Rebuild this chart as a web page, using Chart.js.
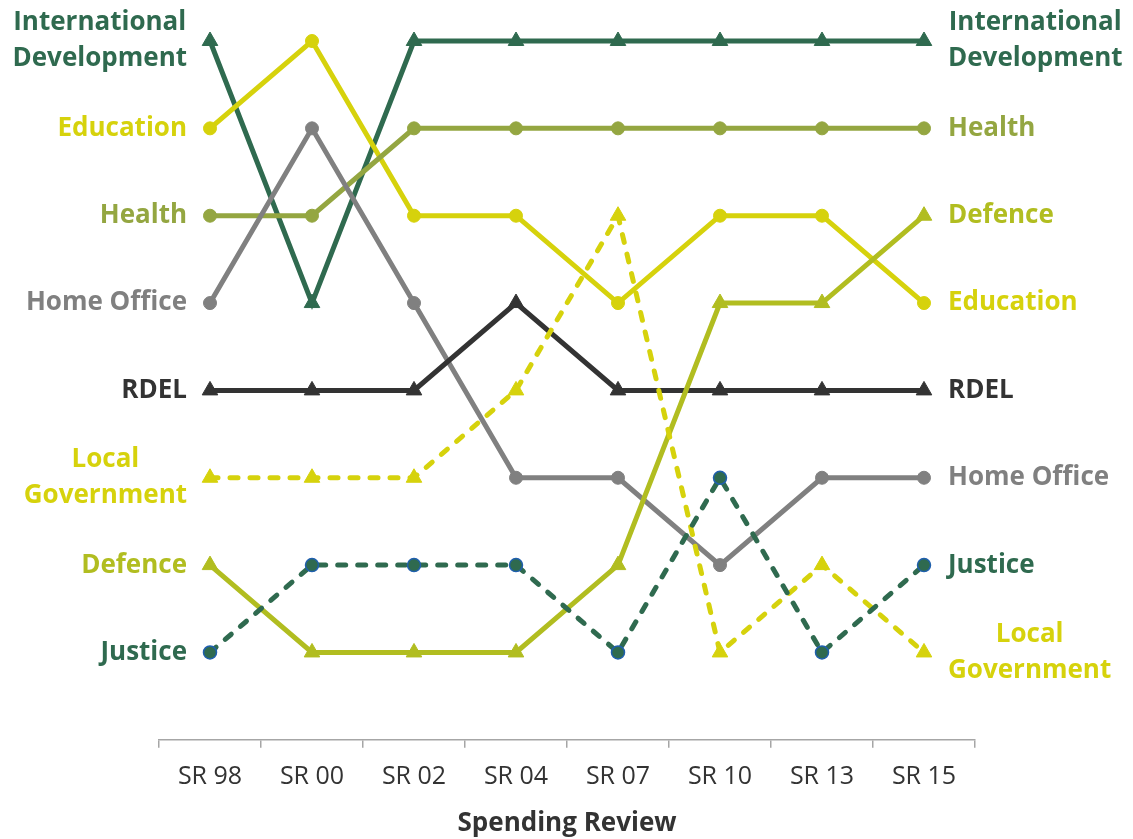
<!DOCTYPE html>
<html>
<head>
<meta charset="utf-8">
<script src="https://cdn.jsdelivr.net/npm/chart.js@4.4.1/dist/chart.umd.min.js"></script>
<style>
  html, body { margin: 0; padding: 0; background: #fff; }
  #wrap { width: 1133px; height: 839px; position: relative; }
</style>
</head>
<body>
<div id="wrap"><canvas id="chart"></canvas></div>
<script>
const reviews = ['SR 98', 'SR 00', 'SR 02', 'SR 04', 'SR 07', 'SR 10', 'SR 13', 'SR 15']

// rank of each department in each spending review (1 = top)
const intDev = [1, 4, 1, 1, 1, 1, 1, 1]
const education = [2, 1, 3, 3, 4, 3, 3, 4]
const health = [3, 3, 2, 2, 2, 2, 2, 2]
const homeOffice = [4, 2, 4, 6, 6, 7, 6, 6]
const rdel = [5, 5, 5, 4, 5, 5, 5, 5]
const localGov = [6, 6, 6, 5, 3, 8, 7, 8]
const defence = [7, 8, 8, 8, 7, 4, 4, 3]
const justice = [8, 7, 7, 7, 8, 6, 8, 7]

const font = "'Open Sans', 'Noto Sans', sans-serif"

function series(name, data, color, opts = {}) {
  return Object.assign({
    label: name,
    data: data,
    borderColor: color,
    backgroundColor: color,
    pointBackgroundColor: color,
    pointBorderColor: color,
    borderWidth: 5,
    pointStyle: 'circle',
    pointRadius: 6.5,
    pointBorderWidth: 1,
    tension: 0,
    clip: false,
    lines: [name]
  }, opts)
}

const tri = { pointStyle: 'triangle', pointRadius: 9 }
const dashed = { borderDash: [8, 12], borderCapStyle: 'round' }

const datasets = [
  series('Justice', justice, '#2f6a4f', Object.assign({ pointBorderColor: '#1f5fae', pointBorderWidth: 1.5 }, dashed)),
  series('Local Government', localGov, '#d6d20c', Object.assign({ lines: ['Local', 'Government'] }, tri, dashed)),
  series('Defence', defence, '#b1bd20', tri),
  series('RDEL', rdel, '#333333', tri),
  series('Home Office', homeOffice, '#808080'),
  series('Health', health, '#94a641'),
  series('Education', education, '#d6d20c'),
  series('International Development', intDev, '#2f6a4f', Object.assign({ lines: ['International', 'Development'] }, tri)),
]

// department names at both ends of each line
const endLabels = {
  id: 'endLabels',
  afterDraw(chart) {
    const ctx = chart.ctx
    const y = chart.scales.y
    const x = chart.scales.x
    ctx.save()
    ctx.font = 'bold 26px ' + font
    ctx.textBaseline = 'middle'
    ctx.textAlign = 'center'
    const lh = 36
    chart.data.datasets.forEach(ds => {
      const lines = ds.lines
      const w = Math.max(...lines.map(l => ctx.measureText(l).width))
      ctx.fillStyle = ds.borderColor
      const ends = [
        { v: ds.data[0], cx: x.getPixelForValue(0) - 23 - w / 2 },
        { v: ds.data[ds.data.length - 1], cx: x.getPixelForValue(ds.data.length - 1) + 24 + w / 2 }
      ]
      ends.forEach(e => {
        const cy = y.getPixelForValue(e.v)
        lines.forEach((l, i) => {
          ctx.fillText(l, e.cx, cy + (i - (lines.length - 1) / 2) * lh)
        })
      })
    })
    ctx.restore()
  }
}

new Chart(document.getElementById('chart'), {
  type: 'line',
  data: { labels: reviews, datasets: datasets },
  options: {
    responsive: true,
    maintainAspectRatio: false,
    animation: false,
    layout: { padding: { left: 159, right: 158, top: 0, bottom: 0 } },
    plugins: { legend: { display: false }, tooltip: { enabled: false } },
    scales: {
      x: {
        offset: true,
        grid: { offset: true, drawOnChartArea: false, tickLength: 8, color: '#a6a6a6', lineWidth: 1.5 },
        border: { color: '#a6a6a6', width: 1.5 },
        ticks: { color: '#333333', padding: 14, font: { family: font, size: 25 } },
        title: {
          display: true, text: 'Spending Review', color: '#333333',
          padding: { top: 2, bottom: 0 },
          font: { family: font, size: 26, weight: 'bold' }
        }
      },
      y: {
        display: false,
        reverse: true,
        min: 0.645,
        max: 9.0
      }
    }
  },
  plugins: [endLabels]
})
</script>
</body>
</html>
